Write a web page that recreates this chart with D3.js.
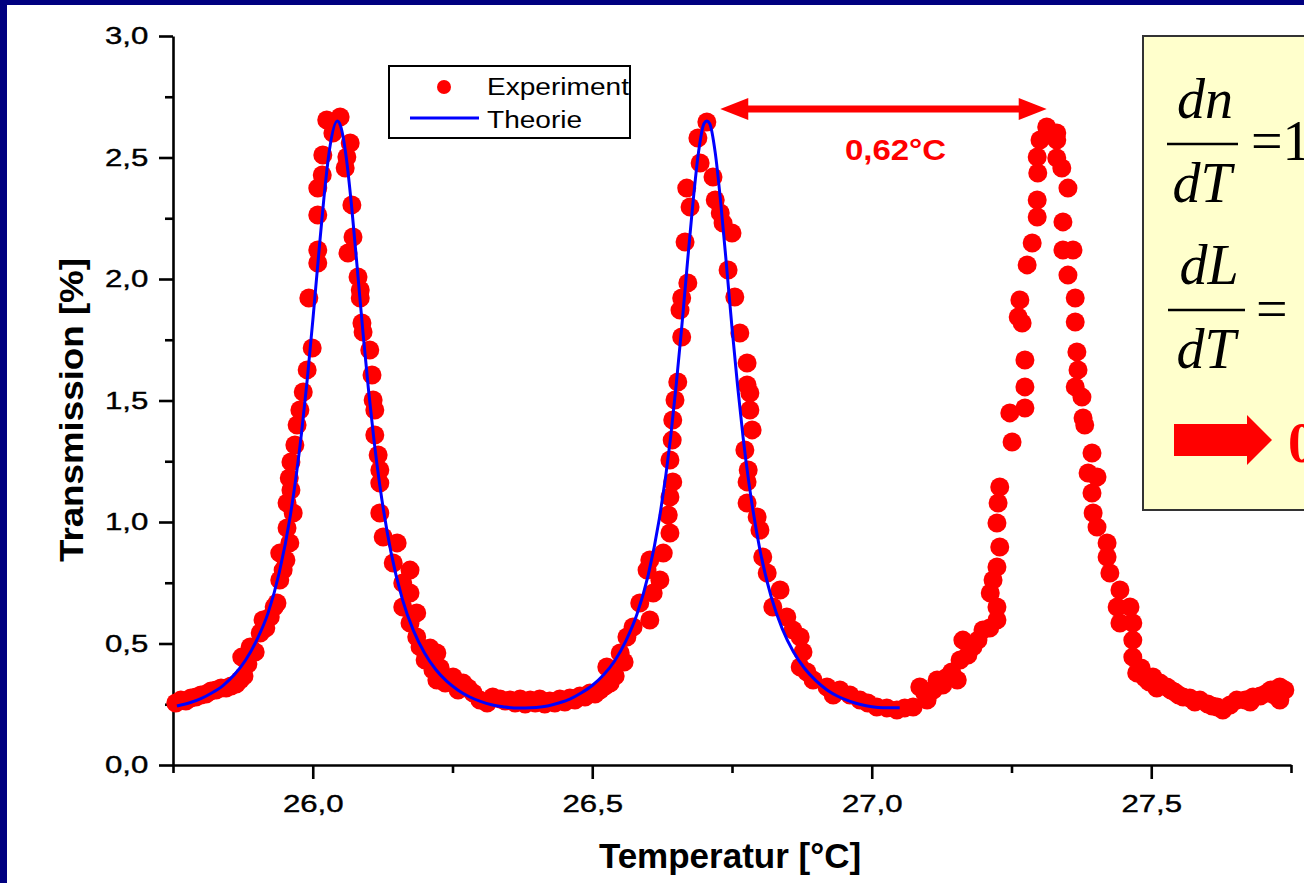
<!DOCTYPE html>
<html>
<head>
<meta charset="utf-8">
<script src="https://cdn.jsdelivr.net/npm/d3@7"></script>
<style>
  html, body { margin: 0; padding: 0; background: #000080; overflow: hidden; }
  svg { display: block; }
</style>
</head>
<body>
<script>
// measured points, [temperature °C, transmission %]
const experiment = [
  [25.755,0.255],[25.764,0.267],[25.773,0.263],[25.782,0.276],[25.791,0.280],[25.800,0.288],
  [25.809,0.292],[25.818,0.305],[25.827,0.309],[25.836,0.317],[25.845,0.317],[25.854,0.325],
  [25.863,0.333],[25.870,0.350],[25.877,0.366],[25.873,0.444],[25.884,0.416],[25.888,0.486],
  [25.897,0.465],[25.906,0.543],[25.911,0.597],[25.916,0.564],[25.924,0.609],[25.931,0.650],
  [25.936,0.667],[25.941,0.761],[25.947,0.802],[25.941,0.872],[25.952,0.844],[25.959,0.914],
  [25.954,0.975],[25.965,1.037],[25.954,1.078],[25.961,1.132],[25.958,1.181],[25.961,1.247],
  [25.968,1.317],[25.972,1.399],[25.977,1.461],[25.983,1.535],[25.990,1.626],[25.999,1.716],
  [25.993,1.922],[26.009,2.066],[26.009,2.119],[26.009,2.263],[26.009,2.374],[26.017,2.428],
  [26.018,2.510],[26.025,2.654],[26.036,2.601],[26.049,2.667],[26.067,2.560],[26.061,2.502],
  [26.058,2.457],[26.070,2.305],[26.072,2.173],[26.063,2.107],[26.081,2.008],[26.085,1.955],
  [26.085,1.922],[26.088,1.819],[26.090,1.782],[26.102,1.708],[26.106,1.605],[26.108,1.502],
  [26.111,1.461],[26.111,1.358],[26.117,1.276],[26.120,1.214],[26.120,1.160],[26.120,1.037],
  [26.126,0.938],[26.151,0.914],[26.144,0.831],[26.174,0.802],[26.161,0.749],[26.174,0.708],
  [26.161,0.650],[26.186,0.626],[26.174,0.584],[26.186,0.527],[26.192,0.486],[26.201,0.432],
  [26.210,0.481],[26.222,0.461],[26.215,0.391],[26.228,0.399],[26.251,0.362],[26.222,0.350],
  [26.237,0.337],[26.260,0.309],[26.269,0.337],[26.278,0.317],[26.287,0.296],[26.299,0.267],
  [26.312,0.255],[26.322,0.280],[26.335,0.272],[26.344,0.263],[26.353,0.267],[26.362,0.255],
  [26.371,0.272],[26.380,0.251],[26.389,0.267],[26.398,0.255],[26.406,0.272],[26.415,0.251],
  [26.424,0.263],[26.433,0.255],[26.442,0.272],[26.451,0.259],[26.460,0.276],[26.469,0.267],
  [26.478,0.284],[26.487,0.280],[26.496,0.296],[26.505,0.292],[26.514,0.309],[26.523,0.325],
  [26.532,0.337],[26.526,0.403],[26.541,0.366],[26.550,0.461],[26.557,0.424],[26.562,0.527],
  [26.573,0.568],[26.585,0.667],[26.603,0.597],[26.609,0.708],[26.598,0.802],[26.621,0.761],
  [26.603,0.844],[26.627,0.872],[26.639,0.955],[26.636,1.029],[26.639,1.103],[26.644,1.165],
  [26.639,1.255],[26.643,1.337],[26.644,1.420],[26.648,1.502],[26.653,1.576],[26.660,1.761],
  [26.657,1.872],[26.660,1.922],[26.671,1.984],[26.666,2.152],[26.669,2.374],[26.675,2.296],
  [26.693,2.477],[26.689,2.580],[26.705,2.646],[26.716,2.420],[26.720,2.325],[26.729,2.272],
  [26.734,2.230],[26.750,2.189],[26.743,2.037],[26.755,1.926],[26.764,1.778],[26.777,1.654],
  [26.777,1.564],[26.782,1.531],[26.782,1.461],[26.786,1.379],[26.773,1.296],[26.779,1.214],
  [26.777,1.165],[26.777,1.078],[26.795,1.021],[26.800,0.967],[26.805,0.856],[26.813,0.790],
  [26.836,0.720],[26.823,0.650],[26.848,0.609],[26.859,0.556],[26.872,0.527],[26.872,0.403],
  [26.877,0.465],[26.884,0.383],[26.895,0.350],[26.920,0.321],[26.931,0.288],[26.943,0.309],
  [26.961,0.288],[26.979,0.267],[26.993,0.255],[27.009,0.239],[27.027,0.235],[27.045,0.226],
  [27.059,0.235],[27.074,0.239],[27.086,0.321],[27.095,0.296],[27.099,0.267],[27.110,0.309],
  [27.117,0.350],[27.127,0.329],[27.135,0.362],[27.143,0.383],[27.153,0.350],[27.158,0.432],
  [27.172,0.453],[27.163,0.514],[27.181,0.486],[27.190,0.514],[27.199,0.556],[27.211,0.564],
  [27.224,0.597],[27.224,0.650],[27.212,0.708],[27.217,0.761],[27.224,0.815],[27.229,0.897],
  [27.224,0.996],[27.226,1.078],[27.229,1.144],[27.251,1.329],[27.247,1.449],[27.274,1.469],
  [27.274,1.556],[27.274,1.667],[27.269,1.819],[27.262,1.844],[27.265,1.914],[27.278,2.058],
  [27.287,2.148],[27.296,2.255],[27.296,2.325],[27.297,2.436],[27.296,2.502],[27.301,2.572],
  [27.313,2.626],[27.331,2.601],[27.331,2.572],[27.331,2.498],[27.340,2.457],[27.351,2.374],
  [27.342,2.235],[27.342,2.119],[27.360,2.119],[27.351,2.016],[27.364,1.922],[27.364,1.823],
  [27.367,1.700],[27.369,1.626],[27.364,1.556],[27.376,1.514],[27.378,1.428],[27.381,1.399],
  [27.394,1.284],[27.387,1.202],[27.403,1.185],[27.394,1.119],[27.396,1.037],[27.403,0.979],
  [27.421,0.914],[27.421,0.856],[27.426,0.790],[27.444,0.720],[27.439,0.650],[27.462,0.650],
  [27.444,0.584],[27.467,0.584],[27.467,0.514],[27.467,0.444],[27.474,0.379],[27.482,0.399],
  [27.489,0.358],[27.496,0.342],[27.503,0.362],[27.510,0.317],[27.516,0.337],[27.528,0.321],
  [27.535,0.309],[27.542,0.300],[27.549,0.288],[27.557,0.280],[27.569,0.276],[27.578,0.259],
  [27.587,0.267],[27.601,0.251],[27.609,0.243],[27.618,0.239],[27.628,0.226],[27.641,0.247],
  [27.653,0.267],[27.668,0.267],[27.677,0.259],[27.682,0.280],[27.695,0.284],[27.707,0.296],
  [27.714,0.309],[27.720,0.288],[27.730,0.321],[27.730,0.267],[27.739,0.309]
];

// fitted curve, [temperature °C, transmission %]
const theory = [
  [25.757,0.243],[25.78,0.256],[25.80,0.273],[25.82,0.297],[25.84,0.328],[25.86,0.372],
  [25.88,0.432],[25.90,0.515],[25.92,0.625],[25.94,0.791],[25.96,1.028],[25.98,1.368],
  [25.99,1.583],[26.00,1.827],[26.01,2.085],[26.02,2.334],[26.03,2.533],[26.044,2.65],
  [26.05,2.628],[26.06,2.499],[26.07,2.287],[26.08,2.034],[26.09,1.776],[26.10,1.538],
  [26.11,1.328],[26.12,1.150],[26.14,0.875],[26.16,0.685],[26.18,0.554],[26.20,0.461],
  [26.22,0.393],[26.24,0.344],[26.26,0.308],[26.28,0.281],[26.30,0.262],[26.32,0.248],
  [26.34,0.240],[26.36,0.235],[26.38,0.235],[26.40,0.237],[26.42,0.243],[26.44,0.255],
  [26.46,0.271],[26.48,0.296],[26.50,0.327],[26.52,0.370],[26.54,0.428],[26.56,0.510],
  [26.58,0.620],[26.60,0.780],[26.62,1.013],[26.64,1.345],[26.65,1.560],[26.66,1.800],
  [26.67,2.060],[26.68,2.310],[26.69,2.520],[26.70,2.640],[26.705,2.650],[26.71,2.640],
  [26.72,2.520],[26.73,2.310],[26.74,2.060],[26.75,1.800],[26.76,1.560],[26.77,1.345],
  [26.78,1.165],[26.80,0.885],[26.82,0.693],[26.84,0.560],[26.86,0.465],[26.88,0.397],
  [26.90,0.347],[26.92,0.309],[26.94,0.282],[26.96,0.263],[26.98,0.249],[27.00,0.240],
  [27.02,0.236],[27.05,0.236]
];

const xMajor = [26.0, 26.5, 27.0, 27.5];
const xMinor = [25.75, 26.25, 26.75, 27.25, 27.75];
const yMajor = [0, 0.5, 1.0, 1.5, 2.0, 2.5, 3.0];
const yMinor = [0.25, 0.75, 1.25, 1.75, 2.25, 2.75];
const legendItems = ['Experiment', 'Theorie'];
const gap = { from: 26.729, to: 27.313, level: 2.70, label: '0,62°C' };

const w = 1304, h = 883;
const sans = "'Liberation Sans', Arial, sans-serif";
const serif = "'Liberation Serif', 'Times New Roman', serif";
const comma = d => d.toFixed(1).replace('.', ',');

const init = () => {

  const svg = d3.select('body')
    .append('svg')
    .attr('width', w)
    .attr('height', h);

  // navy frame, white slide area
  svg.append('rect').attr('width', w).attr('height', h).attr('fill', '#000080');
  svg.append('rect')
    .attr('x', 7).attr('y', 5)
    .attr('width', w - 7).attr('height', h - 5)
    .attr('fill', '#fff');

  const x = d3.scaleLinear().domain([25.75, 27.75]).range([173, 1291]);
  const y = d3.scaleLinear().domain([0, 3]).range([765, 36]);

  // axes
  svg.append('g')
    .attr('transform', `translate(${x(25.75)},0)`)
    .call(d3.axisLeft(y).tickValues(yMajor).tickSize(14).tickPadding(5).tickSizeOuter(0).tickFormat(comma));
  svg.append('g')
    .attr('transform', `translate(${x(25.75)},0)`)
    .call(d3.axisLeft(y).tickValues(yMinor).tickSize(8).tickSizeOuter(0).tickFormat(''))
    .select('.domain').remove();

  svg.append('g')
    .attr('transform', `translate(0,${y(0)})`)
    .call(d3.axisBottom(x).tickValues(xMajor).tickSize(14).tickPadding(16).tickSizeOuter(0).tickFormat(comma));
  svg.append('g')
    .attr('transform', `translate(0,${y(0)})`)
    .call(d3.axisBottom(x).tickValues(xMinor).tickSize(8).tickSizeOuter(0).tickFormat(''))
    .select('.domain').remove();

  svg.selectAll('.domain, .tick line')
    .attr('stroke', '#000')
    .attr('stroke-width', 2.6);

  svg.selectAll('.tick text')
    .attr('fill', '#000')
    .attr('stroke', '#000')
    .attr('stroke-width', 0.4)
    .style('font-family', sans)
    .style('font-size', '24px')
    .attr('transform', 'scale(1.3,1)');

  // axis titles
  svg.append('text')
    .attr('transform', 'translate(83,410) rotate(-90) scale(1.08,1)')
    .attr('text-anchor', 'middle')
    .style('font-family', sans)
    .style('font-weight', 'bold')
    .style('font-size', '34px')
    .text('Transmission [%]');

  svg.append('text')
    .attr('transform', 'translate(730,868) scale(1.0,1)')
    .attr('text-anchor', 'middle')
    .style('font-family', sans)
    .style('font-weight', 'bold')
    .style('font-size', '35px')
    .text('Temperatur [°C]');

  // experiment dots
  svg.append('g')
    .selectAll('circle')
    .data(experiment)
    .enter().append('circle')
      .attr('cx', d => x(d[0]))
      .attr('cy', d => y(d[1]))
      .attr('r', 9.5)
      .attr('fill', '#ff0000');

  // theory curve
  const line = d3.line()
    .x(d => x(d[0]))
    .y(d => y(d[1]))
    .curve(d3.curveMonotoneX);

  svg.append('path')
    .datum(theory)
    .attr('d', line)
    .attr('fill', 'none')
    .attr('stroke', '#0000ff')
    .attr('stroke-width', 3);

  // legend
  const legend = svg.append('g');
  legend.append('rect')
    .attr('x', 389).attr('y', 66)
    .attr('width', 241).attr('height', 72)
    .attr('fill', '#fff')
    .attr('stroke', '#000')
    .attr('stroke-width', 2);
  legend.append('circle')
    .attr('cx', 444).attr('cy', 87).attr('r', 7)
    .attr('fill', '#ff0000');
  legend.append('line')
    .attr('x1', 410).attr('x2', 479)
    .attr('y1', 118).attr('y2', 118)
    .attr('stroke', '#0000ff')
    .attr('stroke-width', 3);
  legend.selectAll('text')
    .data(legendItems)
    .enter().append('text')
      .attr('transform', (d, i) => `translate(487,${95 + i * 33}) scale(1.17,1)`)
      .style('font-family', sans)
      .style('font-size', '24px')
      .text(d => d);

  // peak spacing arrow
  const ay = y(gap.level);
  const x1 = x(gap.from), x2 = x(gap.to);
  const headL = 28, headW = 11, shaft = 3.5;
  svg.append('path')
    .attr('d', `M${x1},${ay} L${x1 + headL},${ay - headW} L${x1 + headL},${ay - shaft}
      L${x2 - headL},${ay - shaft} L${x2 - headL},${ay - headW} L${x2},${ay}
      L${x2 - headL},${ay + headW} L${x2 - headL},${ay + shaft} L${x1 + headL},${ay + shaft}
      L${x1 + headL},${ay + headW} Z`)
    .attr('fill', '#ff0000');
  svg.append('text')
    .attr('transform', `translate(${(x1 + x2) / 2 + 12},160) scale(1.1,1)`)
    .attr('text-anchor', 'middle')
    .attr('fill', '#ff0000')
    .style('font-family', sans)
    .style('font-weight', 'bold')
    .style('font-size', '30px')
    .text(gap.label);

  // yellow note box (runs off the slide edge, as in the original)
  const note = svg.append('g');
  note.append('rect')
    .attr('x', 1143).attr('y', 36)
    .attr('width', 220).attr('height', 474)
    .attr('fill', '#ffffcc')
    .attr('stroke', '#333')
    .attr('stroke-width', 2);

  const frac = (top, bottom, cx, yBar, x1b, x2b) => {
    note.append('text')
      .attr('x', cx).attr('y', yBar - 26)
      .attr('text-anchor', 'middle')
      .style('font-family', serif).style('font-style', 'italic').style('font-size', '56px')
      .text(top);
    note.append('line')
      .attr('x1', x1b).attr('x2', x2b)
      .attr('y1', yBar).attr('y2', yBar)
      .attr('stroke', '#000').attr('stroke-width', 2.5);
    note.append('text')
      .attr('x', cx - 3).attr('y', yBar + 58)
      .attr('text-anchor', 'middle')
      .style('font-family', serif).style('font-style', 'italic').style('font-size', '56px')
      .text(bottom);
  };
  frac('dn', 'dT', 1205, 144, 1167, 1238);
  frac('dL', 'dT', 1209, 310, 1168, 1245);

  note.append('text')
    .attr('x', 1251).attr('y', 160)
    .style('font-family', serif).style('font-size', '56px')
    .text('=1');
  note.append('text')
    .attr('x', 1256).attr('y', 328)
    .style('font-family', serif).style('font-size', '56px')
    .text('=');

  note.append('path')
    .attr('d', 'M1174,424 L1247,424 L1247,415 L1272,440 L1247,465 L1247,456 L1174,456 Z')
    .attr('fill', '#ff0000');
  note.append('text')
    .attr('x', 1288).attr('y', 462)
    .attr('fill', '#ff0000')
    .style('font-family', serif).style('font-weight', 'bold').style('font-size', '56px')
    .text('0');
}

init();
</script>
</body>
</html>
